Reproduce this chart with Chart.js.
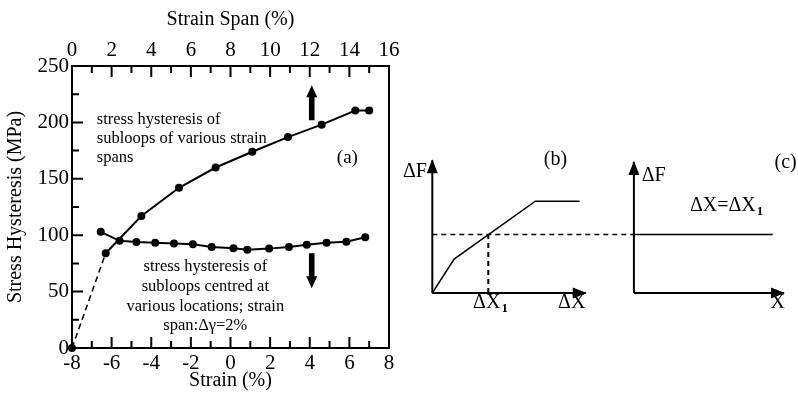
<!DOCTYPE html>
<html>
<head>
<meta charset="utf-8">
<script src="https://cdn.jsdelivr.net/npm/chart.js@4.4.1/dist/chart.umd.min.js"></script>
<style>
  body { margin: 0; background: #fff; }
  #wrap { position: relative; width: 798px; height: 393px; }
  canvas { position: absolute; }
  #chartA { left: 0; top: 0; }
  #chartBC { left: 392px; top: 130px; }
</style>
</head>
<body>
<div id="wrap">
  <canvas id="chartA" width="412" height="393"></canvas>
  <canvas id="chartBC" width="406" height="200"></canvas>
</div>
<script>
const serif = "'Liberation Serif', 'Times New Roman', serif";

// (a) stress hysteresis vs strain span (top axis)
const spanValues = [1.7, 3.5, 5.4, 7.25, 9.1, 10.9, 12.6, 14.3, 15.0];
const spanStress = [84, 117, 142, 160, 174, 187, 198, 210.5, 210.5];

// (a) stress hysteresis vs strain location (bottom axis)
const strainValues = [-6.55, -5.6, -4.75, -3.8, -2.85, -1.9, -0.95, 0.15, 0.85, 1.95, 2.95, 3.85, 4.85, 5.85, 6.8];
const strainStress = [103, 95, 94, 93.3, 92.6, 92, 89.6, 88.4, 87, 88.1, 89.6, 91.6, 93.4, 94.2, 98.1];

const strainTicks = [-8, -6, -4, -2, 0, 2, 4, 6, 8];
const spanTicks = [0, 2, 4, 6, 8, 10, 12, 14, 16];
const stressTicks = [0, 50, 100, 150, 200, 250];

const upperNote = ['stress hysteresis of', 'subloops of various strain', 'spans'];
const lowerNote = ['stress hysteresis of', 'subloops centred at', 'various locations; strain', 'span:\u0394\u03b3=2%'];

// (b) and (c) schematic, in units of dX1 / dF1
const bCurveX = [0, 0.39, 1.84, 2.63];
const bCurveY = [0, 0.58, 1.57, 1.57];
const dX1 = 1;
const dF1 = 1;
const cOrigin = 3.6;
const cLineEnd = 6.08;
const bAxisEnd = [2.74, 2.27];
const cAxisEnd = [2.68, 2.24];

function fixTicks(values) {
  return scale => { scale.ticks = values.map(v => ({ value: v })); };
}

function minorTicks(values) {
  const out = [];
  for (let i = 0; i < values.length - 1; i++) out.push((values[i] + values[i + 1]) / 2);
  return out;
}

function drawArrow(ctx, x, yBase, yTip) {
  const dir = yTip < yBase ? -1 : 1;
  const headLen = 12;
  const headBase = yTip - dir * headLen;
  ctx.beginPath();
  ctx.moveTo(x - 2.8, yBase);
  ctx.lineTo(x - 2.8, headBase);
  ctx.lineTo(x - 5.5, headBase);
  ctx.lineTo(x, yTip);
  ctx.lineTo(x + 5.5, headBase);
  ctx.lineTo(x + 2.8, headBase);
  ctx.lineTo(x + 2.8, yBase);
  ctx.closePath();
  ctx.fill();
}

const frameA = {
  id: 'frameA',
  beforeDatasetsDraw(chart) {
    const { ctx, scales } = chart;
    ctx.save();
    ctx.fillStyle = '#000';
    ctx.font = '16.5px ' + serif;
    ctx.textBaseline = 'middle';
    ctx.textAlign = 'left';
    let x = scales.x.getPixelForValue(-6.75);
    let y = scales.y.getPixelForValue(202);
    upperNote.forEach((t, i) => ctx.fillText(t, x, y + i * 19));
    ctx.textAlign = 'center';
    x = scales.x.getPixelForValue(-1.27);
    y = scales.y.getPixelForValue(71.8);
    lowerNote.forEach((t, i) => ctx.fillText(t, x, y + i * 19.6));
    ctx.font = '19px ' + serif;
    ctx.fillText('(a)', scales.x.getPixelForValue(5.9), scales.y.getPixelForValue(168.4));
    ctx.restore();
  },
  afterDatasetsDraw(chart) {
    const { ctx, chartArea: a, scales } = chart;
    ctx.save();
    ctx.strokeStyle = '#000';
    ctx.fillStyle = '#000';
    ctx.lineWidth = 2;
    ctx.strokeRect(a.left, a.top, a.right - a.left, a.bottom - a.top);
    ctx.beginPath();
    const tick = (vals, len, fn) => vals.forEach(v => fn(v, len));
    const bottom = (v, len) => { const p = scales.x.getPixelForValue(v); ctx.moveTo(p, a.bottom); ctx.lineTo(p, a.bottom - len); };
    const top = (v, len) => { const p = scales.x2.getPixelForValue(v); ctx.moveTo(p, a.top); ctx.lineTo(p, a.top + len); };
    const left = (v, len) => { const p = scales.y.getPixelForValue(v); ctx.moveTo(a.left, p); ctx.lineTo(a.left + len, p); };
    tick(strainTicks.slice(1, -1), 11, bottom);
    tick(minorTicks(strainTicks), 7, bottom);
    tick(spanTicks.slice(1, -1), 11, top);
    tick(minorTicks(spanTicks), 7, top);
    tick(stressTicks.slice(1, -1), 11, left);
    tick(minorTicks(stressTicks), 7, left);
    ctx.stroke();
    const ax = scales.x.getPixelForValue(4.1);
    drawArrow(ctx, ax, scales.y.getPixelForValue(202), scales.y.getPixelForValue(233));
    drawArrow(ctx, ax, scales.y.getPixelForValue(84), scales.y.getPixelForValue(53));
    ctx.restore();
  }
};

const tickFont = { family: serif, size: 21 };
const titleFont = { family: serif, size: 20 };
const dot = { pointRadius: 4, pointBackgroundColor: '#000', pointBorderColor: '#000', pointBorderWidth: 0 };
const noGrid = { display: false, drawTicks: false };

new Chart(document.getElementById('chartA'), {
  type: 'scatter',
  data: {
    datasets: [
      {
        data: [{ x: 0, y: 0 }, { x: spanValues[0], y: spanStress[0] }],
        xAxisID: 'x2', showLine: true, borderColor: '#000', borderWidth: 1.5, borderDash: [6, 4],
        pointRadius: [4, 0], pointBackgroundColor: '#000', pointBorderWidth: 0, clip: false
      },
      Object.assign({
        data: spanValues.map((v, i) => ({ x: v, y: spanStress[i] })),
        xAxisID: 'x2', showLine: true, borderColor: '#000', borderWidth: 2
      }, dot),
      Object.assign({
        data: strainValues.map((v, i) => ({ x: v, y: strainStress[i] })),
        xAxisID: 'x', showLine: true, borderColor: '#000', borderWidth: 2
      }, dot)
    ]
  },
  options: {
    responsive: false,
    animation: false,
    layout: { padding: { right: 23 } },
    plugins: { legend: { display: false }, tooltip: { enabled: false } },
    scales: {
      x: {
        type: 'linear', position: 'bottom', min: -8, max: 8,
        afterBuildTicks: fixTicks(strainTicks),
        afterFit: s => { s.height = 45; },
        grid: noGrid, border: { display: false },
        ticks: { font: tickFont, color: '#000', padding: 3, maxRotation: 0, autoSkip: false },
        title: { display: true, text: 'Strain (%)', font: titleFont, color: '#000', padding: { top: 0, bottom: 0 } }
      },
      x2: {
        type: 'linear', axis: 'x', position: 'top', min: 0, max: 16,
        afterBuildTicks: fixTicks(spanTicks),
        afterFit: s => { s.height = 66; },
        grid: noGrid, border: { display: false },
        ticks: { font: tickFont, color: '#000', padding: 3, maxRotation: 0, autoSkip: false },
        title: { display: true, text: 'Strain Span (%)', font: titleFont, color: '#000', padding: { top: 8, bottom: 0 } }
      },
      y: {
        type: 'linear', position: 'left', min: 0, max: 250,
        afterBuildTicks: fixTicks(stressTicks),
        afterFit: s => { s.width = 72; },
        grid: noGrid, border: { display: false },
        ticks: { font: tickFont, color: '#000', padding: 3, autoSkip: false },
        title: { display: true, text: 'Stress Hysteresis (MPa)', font: titleFont, color: '#000', padding: { top: 4, bottom: 0 } }
      }
    }
  },
  plugins: [frameA]
});

// schematic (b) and (c)
function labelSub(ctx, main, sub, x, y, align) {
  ctx.font = '20px ' + serif;
  const w1 = ctx.measureText(main).width;
  ctx.font = 'bold 13px ' + serif;
  const w2 = ctx.measureText(sub).width;
  let x0 = align === 'center' ? x - (w1 + w2) / 2 : x;
  ctx.textAlign = 'left';
  ctx.font = '20px ' + serif;
  ctx.fillText(main, x0, y);
  ctx.font = 'bold 13px ' + serif;
  ctx.fillText(sub, x0 + w1 + 1, y + 6);
}

const frameBC = {
  id: 'frameBC',
  afterDatasetsDraw(chart) {
    const { ctx, scales: { x, y } } = chart;
    ctx.save();
    ctx.fillStyle = '#000';
    chart.data.datasets.forEach((ds, i) => {
      if (!ds.arrow) return;
      const pts = chart.getDatasetMeta(i).data;
      const tip = pts[pts.length - 1], prev = pts[0];
      const ang = Math.atan2(tip.y - prev.y, tip.x - prev.x);
      ctx.save();
      ctx.translate(tip.x, tip.y);
      ctx.rotate(ang);
      ctx.beginPath();
      ctx.moveTo(1, 0);
      ctx.lineTo(-13, -5.5);
      ctx.lineTo(-13, 5.5);
      ctx.closePath();
      ctx.fill();
      ctx.restore();
    });
    ctx.textBaseline = 'middle';
    ctx.font = '20px ' + serif;
    ctx.textAlign = 'right';
    ctx.fillText('\u0394F', x.getPixelForValue(-0.095), y.getPixelForValue(2.07));
    ctx.textAlign = 'center';
    ctx.fillText('(b)', x.getPixelForValue(2.2), y.getPixelForValue(2.27));
    ctx.fillText('\u0394X', x.getPixelForValue(2.49), y.getPixelForValue(-0.17));
    ctx.fillText('X', x.getPixelForValue(6.17), y.getPixelForValue(-0.17));
    ctx.fillText('(c)', x.getPixelForValue(6.31), y.getPixelForValue(2.22));
    ctx.textAlign = 'left';
    ctx.fillText('\u0394F', x.getPixelForValue(3.74), y.getPixelForValue(2.0));
    labelSub(ctx, '\u0394X', '1', x.getPixelForValue(dX1 + 0.03), y.getPixelForValue(-0.17), 'center');
    labelSub(ctx, '\u0394X=\u0394X', '1', x.getPixelForValue(4.6), y.getPixelForValue(1.5), 'left');
    ctx.restore();
  }
};

const seg = (pts, extra) => Object.assign({
  data: pts, showLine: true, borderColor: '#000', borderWidth: 1.5, pointRadius: 0, tension: 0
}, extra);

new Chart(document.getElementById('chartBC'), {
  type: 'scatter',
  data: {
    datasets: [
      seg([{ x: 0, y: 0 }, { x: 0, y: bAxisEnd[1] }], { borderWidth: 2, arrow: true }),
      seg([{ x: 0, y: 0 }, { x: bAxisEnd[0], y: 0 }], { borderWidth: 2, arrow: true }),
      seg(bCurveX.map((v, i) => ({ x: v, y: bCurveY[i] }))),
      seg([{ x: 0, y: dF1 }, { x: cOrigin, y: dF1 }], { borderDash: [5, 4] }),
      seg([{ x: dX1, y: 0 }, { x: dX1, y: dF1 }], { borderDash: [5, 4], borderWidth: 2 }),
      seg([{ x: cOrigin, y: 0 }, { x: cOrigin, y: cAxisEnd[1] }], { borderWidth: 2, arrow: true }),
      seg([{ x: cOrigin, y: 0 }, { x: cOrigin + cAxisEnd[0], y: 0 }], { borderWidth: 2, arrow: true }),
      seg([{ x: cOrigin, y: dF1 }, { x: cLineEnd, y: dF1 }])
    ]
  },
  options: {
    responsive: false,
    animation: false,
    layout: { padding: 0 },
    plugins: { legend: { display: false }, tooltip: { enabled: false } },
    scales: {
      x: { type: 'linear', display: false, min: -40.3 / 56, max: (406 - 40.3) / 56 },
      y: { type: 'linear', display: false, min: -37 / 58.5, max: 163 / 58.5 }
    }
  },
  plugins: [frameBC]
});
</script>
</body>
</html>
